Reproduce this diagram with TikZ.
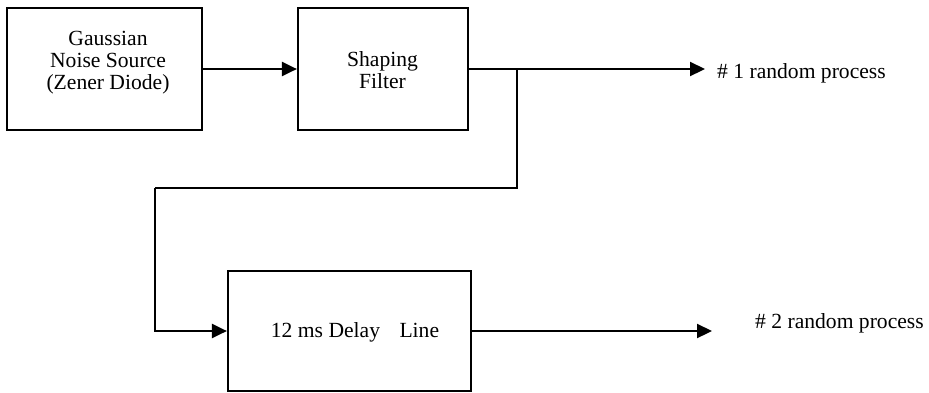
\documentclass[tikz,border=0pt]{standalone}
\usepackage{fontspec}
\setmainfont{Liberation Serif}
\usetikzlibrary{arrows.meta}
\begin{document}
\begin{tikzpicture}[x=1pt,y=-1pt,
  every node/.style={font=\fontsize{21.6}{22}\selectfont},
  block/.style={draw,line width=2.2pt,rectangle,inner sep=0pt},
  txt/.style={align=center,inner sep=0pt},
  wire/.style={line width=2.2pt},
  flow/.style={line width=2.2pt,-{Triangle[length=15pt,width=14pt]}}]
\useasboundingbox (0,0) rectangle (929,392);
% blocks
\node[block,minimum width=195pt,minimum height=122pt] (src) at (104.5,69) {};
\node[block,minimum width=170pt,minimum height=122pt] (filt) at (383,69) {};
\node[block,minimum width=243pt,minimum height=120pt] (delay) at (349.5,331) {};
% block texts
\node[txt] (srctxt) at (108,63) {Gaussian\\Noise Source\\(Zener Diode)};
\node[txt] (filttxt) at (382.5,70) {Shaping\\Filter};
\node[txt] (delaytxt) at (355,332) {12 ms Delay\hspace{0.9em}Line};
% output labels
\node[inner sep=0pt,anchor=base west] (out1) at (717,78) {\# 1 random process};
\node[inner sep=0pt,anchor=base west] (out2) at (755,328) {\# 2 random process};
% connection points
\coordinate (tip1) at (705,69);
\coordinate (tip2) at (712,331);
\coordinate (tap) at (517,69);
\coordinate (bend) at (155,188);
% connectors
\draw[flow] (src.east) -- (filt.west);
\draw[flow] (filt.east) -- (tip1);
\draw[wire] (tap) |- (bend);
\draw[flow] (bend) |- (delay.west);
\draw[flow] (delay.east) -- (tip2);
\end{tikzpicture}
\end{document}
